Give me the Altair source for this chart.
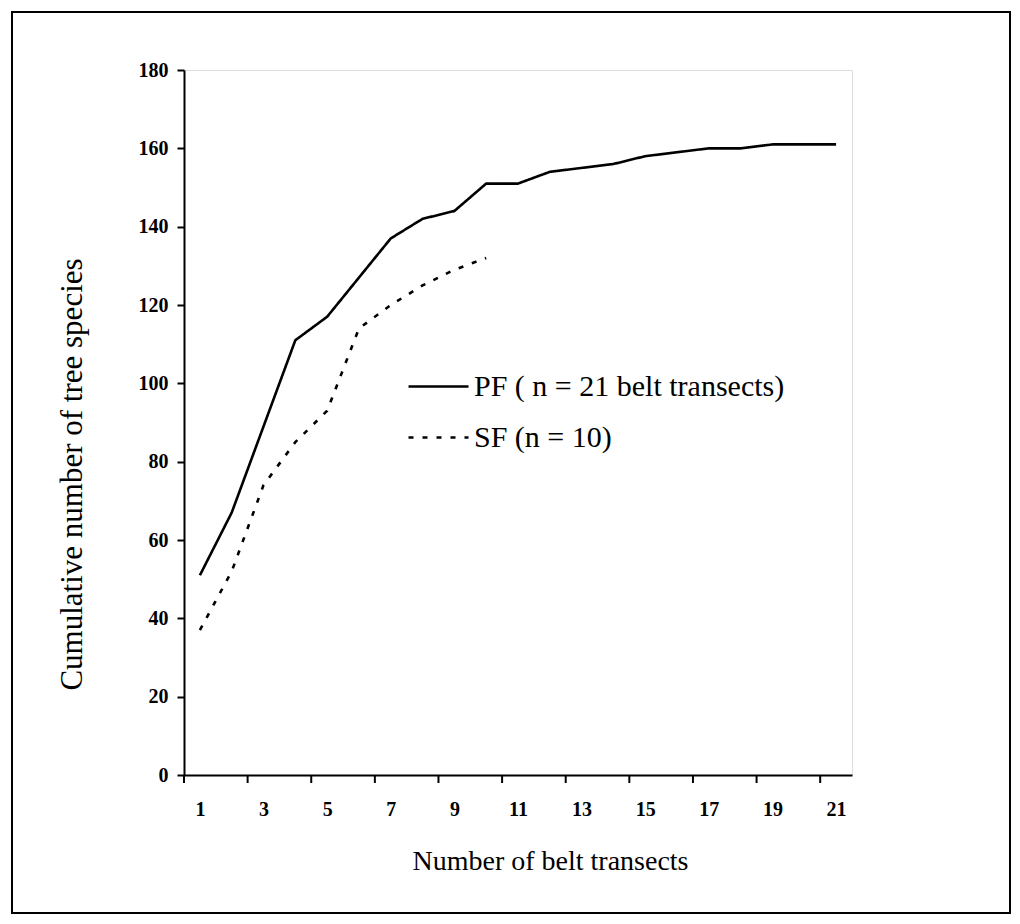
import altair as alt
import pandas as pd

# ---- data ----
transects = list(range(1, 22))
pf_values = [51, 67, 89, 111, 117, 127, 137, 142, 144, 151, 151, 154, 155, 156, 158, 159, 160, 160, 161, 161, 161]
sf_values = [37, 52, 74, 85, 93, 114, 120, 125, 129, 132]
series_labels = ["PF ( n = 21 belt transects)", "SF (n = 10)"]
x_label_values = list(range(1, 22, 2))
x_tick_positions = [0.5 + 2 * k for k in range(11)]
y_ticks = list(range(0, 181, 20))

rows = []
for t, v in zip(transects, pf_values):
    rows.append({"transect": t, "species": v, "series": series_labels[0]})
for t, v in zip(transects, sf_values):
    rows.append({"transect": t, "species": v, "series": series_labels[1]})
df = pd.DataFrame(rows)
ticks_df = pd.DataFrame({"pos": x_tick_positions})

W, H = 668, 705
FONT = "Liberation Serif"
x_scale = alt.Scale(domain=[0.5, 21.5], nice=False, zero=False)

x_enc = alt.X(
    "transect:Q",
    scale=x_scale,
    axis=alt.Axis(
        values=x_label_values,
        grid=False,
        ticks=False,
        domainColor="black",
        domainWidth=2,
        labelFont=FONT,
        labelFontSize=20,
        labelFontWeight="bold",
        labelColor="black",
        labelPadding=24,
        title="Number of belt transects",
        titleFont=FONT,
        titleFontSize=28,
        titleFontWeight="normal",
        titleColor="black",
        titleX=366,
        titleY=94,
        titleAlign="center",
        titleBaseline="alphabetic",
    ),
)
y_enc = alt.Y(
    "species:Q",
    scale=alt.Scale(domain=[0, 180], nice=False),
    axis=alt.Axis(
        values=y_ticks,
        grid=False,
        tickSize=7,
        tickWidth=2,
        tickColor="black",
        domainColor="black",
        domainWidth=2,
        labelFont=FONT,
        labelFontSize=20,
        labelFontWeight="bold",
        labelColor="black",
        labelPadding=9,
        title="Cumulative number of tree species",
        titleFont=FONT,
        titleFontSize=31,
        titleFontWeight="normal",
        titleColor="black",
        titleX=-112,
        titleY=404,
        titleAngle=270,
        titleAlign="center",
        titleBaseline="middle",
    ),
)

lines = alt.Chart(df).mark_line(color="black", strokeWidth=2.6).encode(
    x=x_enc,
    y=y_enc,
    strokeDash=alt.StrokeDash(
        "series:N",
        scale=alt.Scale(domain=series_labels, range=[[1, 0], [5, 9]]),
        legend=alt.Legend(
            title=None,
            orient="none",
            legendX=223,
            legendY=285,
            symbolType="stroke",
            symbolSize=3600,
            symbolStrokeWidth=2.6,
            symbolStrokeColor="black",
            labelFont=FONT,
            labelFontSize=30,
            labelColor="black",
            labelOffset=4,
            rowPadding=4,
            labelLimit=700,
        ),
    ),
    detail="series:N",
)

x_ticks = alt.Chart(ticks_df).mark_rule(color="black", strokeWidth=2).encode(
    x=alt.X("pos:Q", scale=x_scale),
    y=alt.value(H),
    y2=alt.value(H + 8),
)

border = alt.Chart(pd.DataFrame({"a": [0]})).mark_rect(
    fill=None, stroke="black", strokeWidth=2
).encode(
    x=alt.value(-172), x2=alt.value(826), y=alt.value(-58), y2=alt.value(843)
)

chart = alt.layer(lines, x_ticks, border).properties(
    width=W,
    height=H,
    autosize=alt.AutoSizeParams(type="none"),
    padding={"left": 184, "top": 70, "right": 168, "bottom": 149},
).configure_view(stroke=None).configure(background="white")

chart.save("out.html", embed_options={"renderer": "svg", "actions": False})
